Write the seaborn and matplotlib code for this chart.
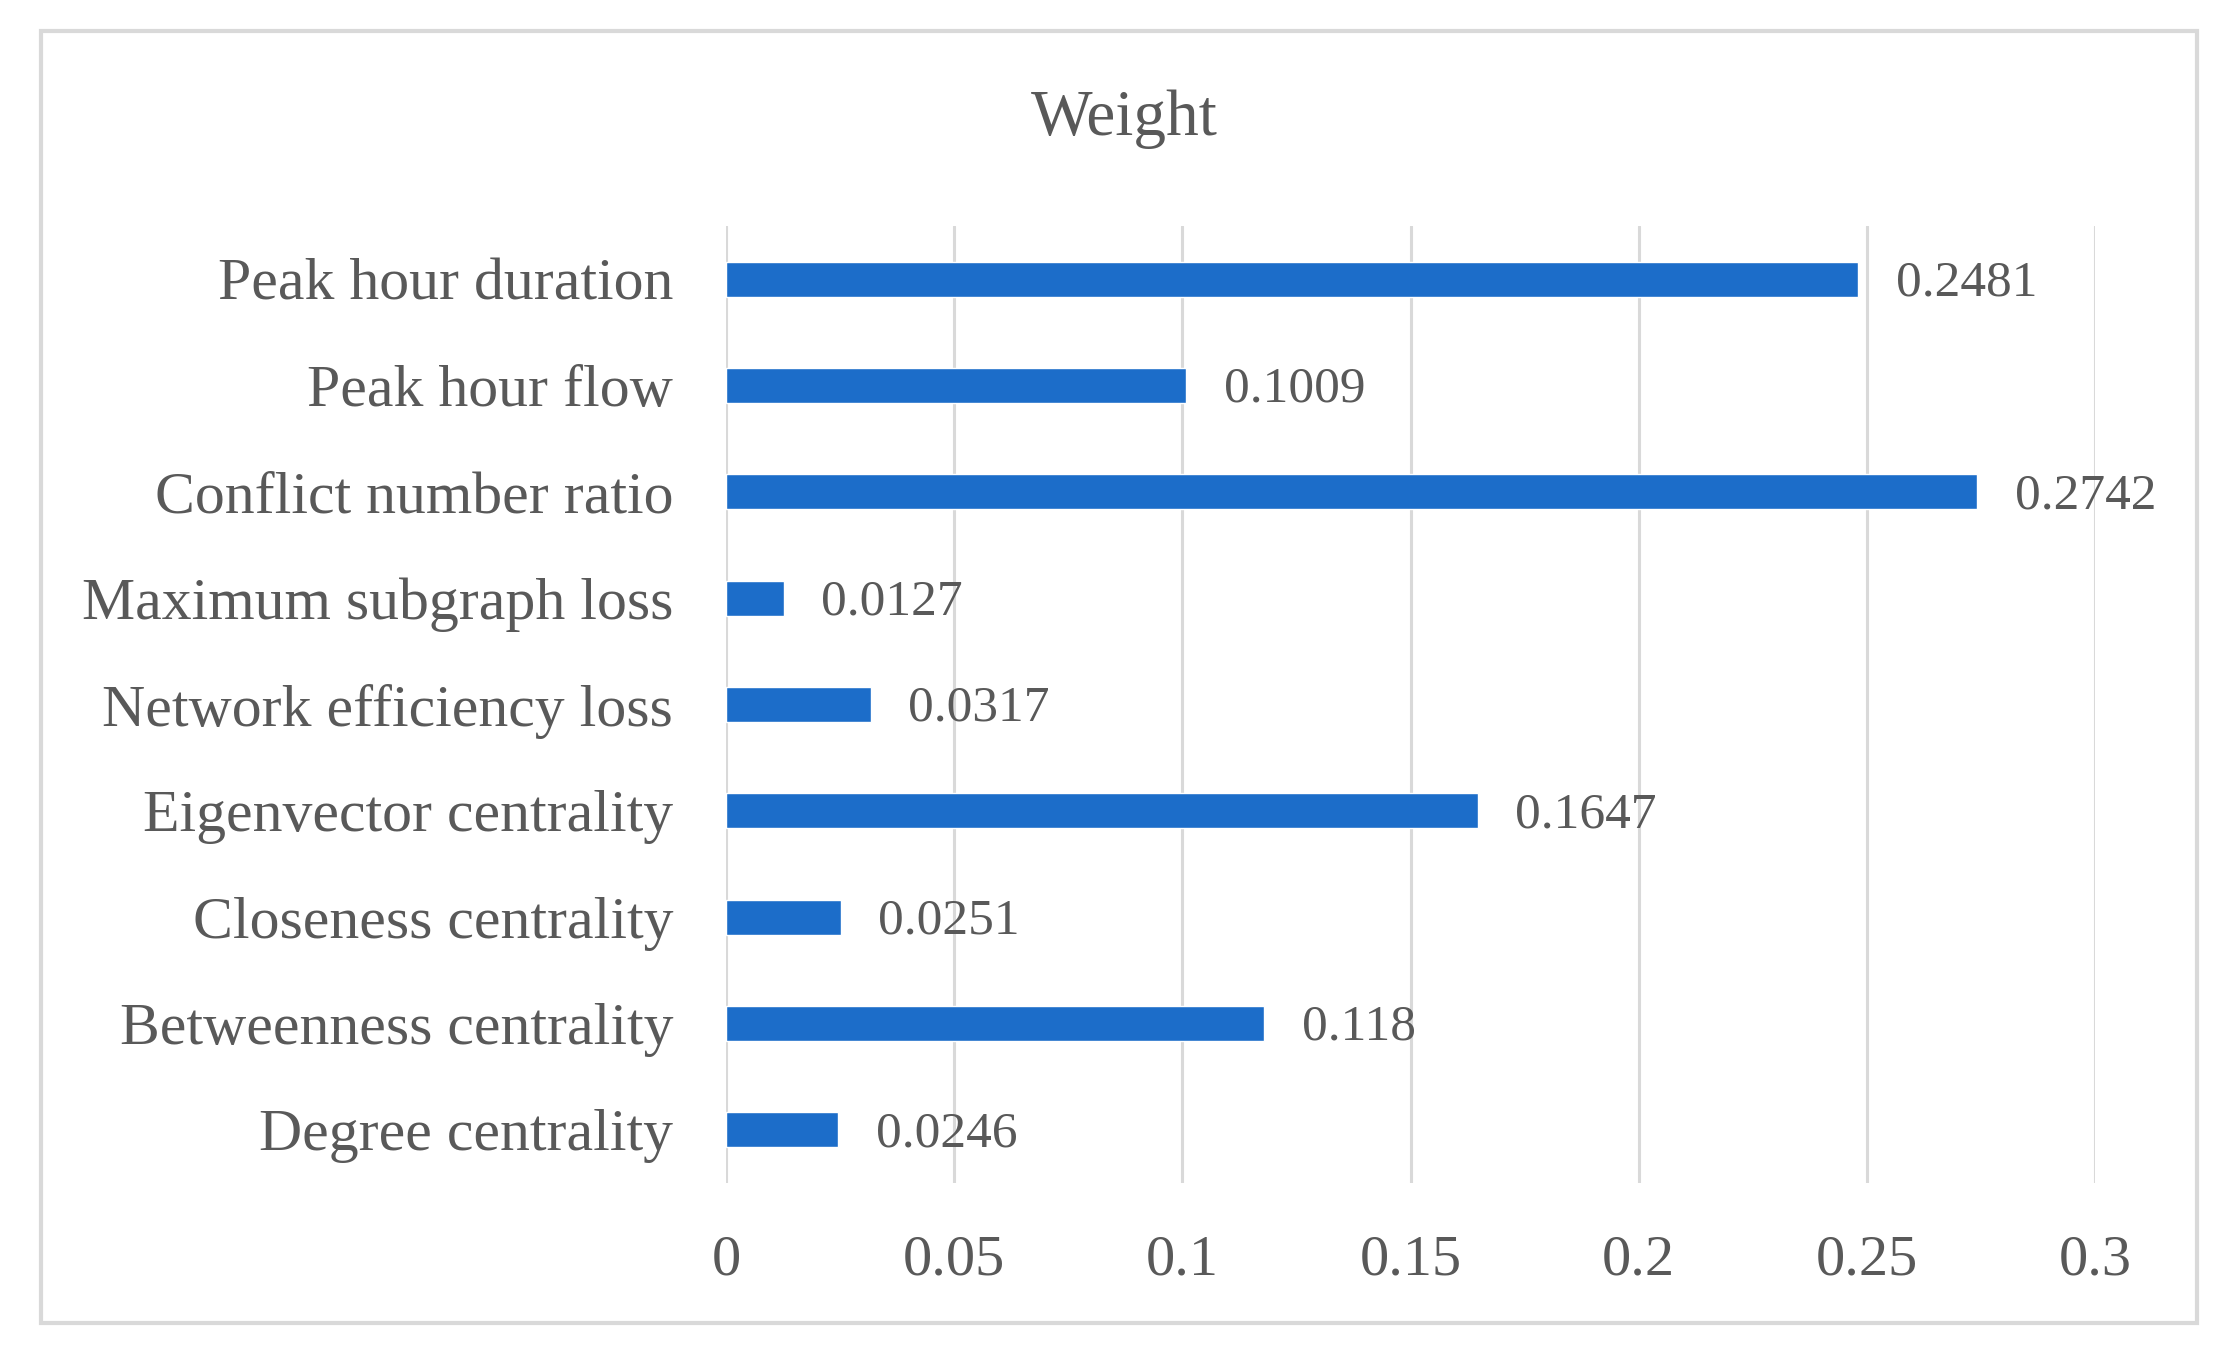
import pandas as pd
import matplotlib.pyplot as plt
from matplotlib.patches import Rectangle
import seaborn as sns

# Indicator weights (top to bottom as shown)
indicators = [
    'Peak hour duration',
    'Peak hour flow',
    'Conflict number ratio',
    'Maximum subgraph loss',
    'Network efficiency loss',
    'Eigenvector centrality',
    'Closeness centrality',
    'Betweenness centrality',
    'Degree centrality',
]
weights = [0.2481, 0.1009, 0.2742, 0.0127, 0.0317, 0.1647, 0.0251, 0.118, 0.0246]
value_labels = ['0.2481', '0.1009', '0.2742', '0.0127', '0.0317', '0.1647', '0.0251', '0.118', '0.0246']
x_ticks = [0, 0.05, 0.1, 0.15, 0.2, 0.25, 0.3]
x_tick_labels = ['0', '0.05', '0.1', '0.15', '0.2', '0.25', '0.3']

df = pd.DataFrame({'Indicator': indicators, 'Weight': weights})

sns.set_style('white')
plt.rcParams['font.family'] = ['Liberation Serif', 'DejaVu Serif']

text_color = '#595959'
bar_color = '#1c6dc9'
grid_color = '#d9d9d9'

fig = plt.figure(figsize=(22.4, 13.7), dpi=100)
ax = fig.add_axes([0.3241, 0.1365, 0.9353 - 0.3241, 0.835 - 0.1365])

sns.barplot(data=df, x='Weight', y='Indicator', orient='h', color=bar_color,
            width=0.33, saturation=1, ax=ax, zorder=3)

ax.set_xlim(0, 0.3)
ax.set_ylim(8.5, -0.5)
ax.set_xticks(x_ticks)
ax.set_xticklabels(x_tick_labels)
ax.xaxis.grid(True, color=grid_color, linewidth=2.2, zorder=0)
ax.set_axisbelow(True)
for s in ax.spines.values():
    s.set_visible(False)

ax.tick_params(axis='x', length=0, pad=37, labelsize=42, labelcolor=text_color)
ax.tick_params(axis='y', length=0, pad=38, labelsize=43, labelcolor=text_color)
ax.set_xlabel('')
ax.set_ylabel('')

texts = ax.bar_label(ax.containers[0], labels=value_labels, padding=27,
                     fontsize=37, color=text_color)
# value labels sit a little below the bar centre
for t in texts:
    t.xyann = (t.xyann[0], -3)

fig.text(0.502, 0.913, 'Weight', ha='center', va='center', fontsize=47, color=text_color)

# light grey frame around the chart
fig.patches.append(Rectangle((41 / 2240, 1 - 1323 / 1370), (2197 - 41) / 2240, (1323 - 31) / 1370,
                             transform=fig.transFigure, fill=False,
                             edgecolor='#d9d9d9', linewidth=3))

fig.savefig('out.png', dpi=100, facecolor='white')
